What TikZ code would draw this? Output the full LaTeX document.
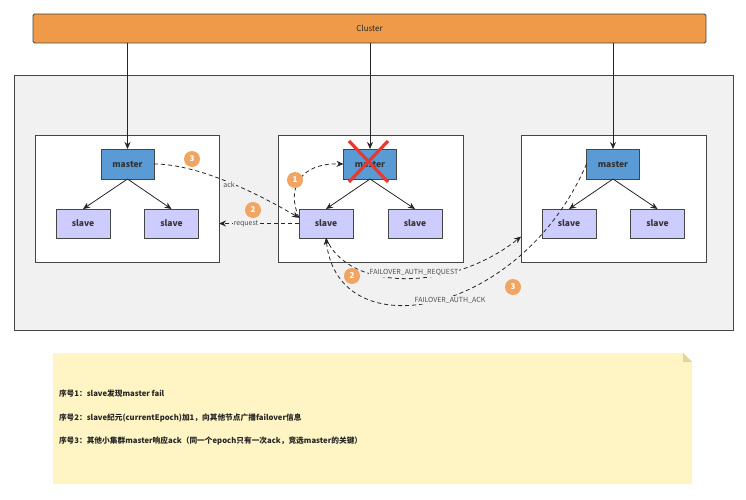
\documentclass[tikz,border=0pt]{standalone}
\usepackage{fontspec}
\setmainfont{Noto Sans CJK SC}
\usetikzlibrary{arrows.meta,calc}
\definecolor{clorange}{RGB}{238,154,72}
\definecolor{mblue}{RGB}{91,155,213}
\definecolor{slav}{RGB}{204,204,255}
\definecolor{outerg}{RGB}{241,241,241}
\definecolor{bordg}{RGB}{70,70,70}
\definecolor{notey}{RGB}{255,245,196}
\definecolor{notefold}{RGB}{225,214,160}
\definecolor{badge}{RGB}{240,165,98}
\definecolor{xred}{RGB}{228,58,48}
\definecolor{lbl}{RGB}{80,80,80}
\begin{document}
\begin{tikzpicture}[x=1pt,y=-1pt,
  every node/.style={inner sep=0pt,outer sep=0pt},
  subbox/.style={draw=bordg,line width=0.9pt,fill=white,minimum width=184pt,minimum height=127pt},
  masterbox/.style={draw=bordg,line width=0.9pt,fill=mblue,minimum width=53pt,minimum height=30pt,font=\fontsize{8.5}{10}\selectfont\bfseries,text=black!80},
  slavebox/.style={draw=bordg,line width=0.9pt,fill=slav,minimum width=54pt,minimum height=29pt,font=\fontsize{8.5}{10}\selectfont\bfseries,text=black!80},
  solidarrow/.style={draw=black!85,line width=0.8pt,-{Stealth[length=7pt,width=6pt]}},
  dasharrow/.style={draw=black!85,line width=0.8pt,dash pattern=on 4pt off 3pt,-{Stealth[length=7pt,width=6pt]}},
  badgenode/.style={circle,fill=badge,minimum size=16pt,text=white,font=\fontsize{8}{9}\selectfont\bfseries},
  lblnode/.style={fill=outerg,inner sep=1pt,text=lbl,font=\fontsize{7}{8}\selectfont},
  notetext/.style={anchor=west,font=\fontsize{7.7}{10}\selectfont\bfseries,text=black!85}
]
\useasboundingbox (0,0) rectangle (746,500);
% cluster bar
\node[draw=bordg,line width=0.9pt,fill=clorange,rounded corners=1.5pt,minimum width=673pt,minimum height=29pt,font=\fontsize{8}{9}\selectfont,text=black!85] (cl) at (369.5,28.5) {Cluster};
% outer box
\node[draw=bordg,line width=0.9pt,fill=outerg,minimum width=719pt,minimum height=255pt] (outer) at (373.5,202.5) {};
% sub boxes
\node[subbox] (bL) at (127,198.5) {};
\node[subbox,minimum width=185pt] (bM) at (370.5,198.5) {};
\node[subbox,minimum width=185pt] (bR) at (613.5,198.5) {};
% masters
\node[masterbox] (mL) at (127.5,164) {master};
\node[masterbox] (mM) at (370,164) {master};
\node[masterbox] (mR) at (613,164) {master};
% slaves
\node[slavebox] (sL1) at (83,223.5) {slave};
\node[slavebox] (sL2) at (171.5,223.5) {slave};
\node[slavebox] (sM1) at (326,223.5) {slave};
\node[slavebox] (sM2) at (415,223.5) {slave};
\node[slavebox] (sR1) at (569,223.5) {slave};
\node[slavebox] (sR2) at (657.5,223.5) {slave};
% cluster to masters
\draw[solidarrow] (mL |- cl.south) -- (mL.north);
\draw[solidarrow] (mM |- cl.south) -- (mM.north);
\draw[solidarrow] (mR |- cl.south) -- (mR.north);
% master to slaves
\foreach \m/\a/\b in {mL/sL1/sL2,mM/sM1/sM2,mR/sR1/sR2}{
  \draw[solidarrow] (\m.south) -- (\a.north);
  \draw[solidarrow] (\m.south) -- (\b.north);
}
% red cross
\coordinate (x1) at (349,141);
\coordinate (x2) at (388,182);
\coordinate (x3) at (388,141);
\coordinate (x4) at (349,182);
\draw[xred,line width=3.2pt] (x1) -- (x2);
\draw[xred,line width=3.2pt] (x3) -- (x4);
% 1: slave finds master fail
\draw[dasharrow] (sM1.168) .. controls (286,188) and (300,163) .. (mM.west);
% 3 ack from left master
\draw[dasharrow] (mL.east) .. controls (200,164) and (262,196) .. (sM1.168);
\node[lblnode] (ackl) at (229,185) {ack};
% 2 request to left
\coordinate (reqend) at (sM1.west -| bL.east);
\draw[dasharrow] (sM1.west) -- (reqend);
\node[lblnode] (reql) at (246,224) {request};
% FAILOVER_AUTH_REQUEST
\coordinate (farend) at ($(bR.south west)!0.2!(bR.north west)$);
\draw[dasharrow] (sM1.south) .. controls (348,292) and (452,292) .. (farend);
\node[lblnode] (far) at (414,273) {FAILOVER\_AUTH\_REQUEST};
% FAILOVER_AUTH_ACK
\draw[dasharrow] (mR.west) .. controls (520,318) and (338,350) .. (sM1.south);
\node[lblnode] (faa) at (450,300) {FAILOVER\_AUTH\_ACK};
% badges
\node[badgenode] (b3a) at (192,159) {3};
\node[badgenode] (b2a) at (253,210) {2};
\node[badgenode] (b1) at (295,180) {1};
\node[badgenode] (b2b) at (352,276) {2};
\node[badgenode] (b3b) at (513,287) {3};
% note
\coordinate (n1) at (53,353);
\coordinate (n2) at (683,353);
\coordinate (n3) at (692,362);
\coordinate (n4) at (692,484);
\coordinate (n5) at (53,484);
\fill[notey] (n1) -- (n2) -- (n3) -- (n4) -- (n5) -- cycle;
\fill[notefold] (n2) -- (n3) -- (683,362) -- cycle;
\node[notetext] (t1) at (59,394) {序号1：slave发现master fail};
\node[notetext] (t2) at (59,418) {序号2：slave纪元(currentEpoch)加1，向其他节点广播failover信息};
\node[notetext] (t3) at (59,441) {序号3：其他小集群master响应ack（同一个epoch只有一次ack，竞选master的关键）};
\end{tikzpicture}
\end{document}
